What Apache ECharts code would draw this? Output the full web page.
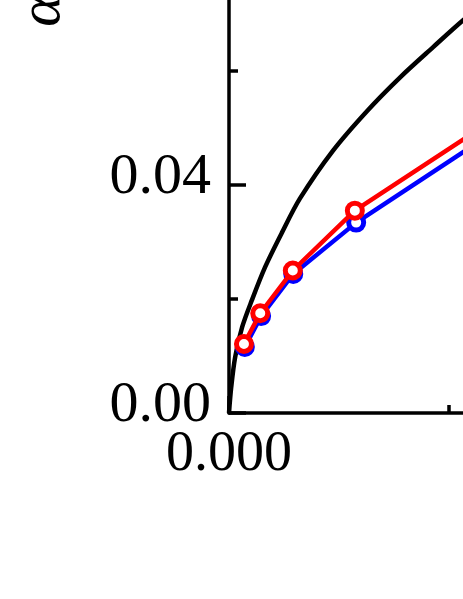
<!DOCTYPE html>
<html>
<head>
<meta charset="utf-8">
<script src="https://cdn.jsdelivr.net/npm/echarts@6/dist/echarts.min.js"></script>
<style>
html,body{margin:0;padding:0;background:#fff;overflow:hidden;width:463px;height:599px;position:relative;}
#chart{position:absolute;left:0;top:-100px;width:900px;height:800px;}
</style>
</head>
<body>
<div id="chart"></div>
<script>
// Black reference curve (x, y)
var curveX = [0, 0.00005, 0.00014, 0.0003, 0.00052, 0.00082, 0.0012, 0.00161, 0.00236, 0.00314, 0.00389, 0.00464, 0.00532, 0.00636];
var curveY = [0, 0.0045, 0.0098, 0.0151, 0.0198, 0.0256, 0.0316, 0.0376, 0.0460, 0.0530, 0.0589, 0.0642, 0.0689, 0.0755];
// Blue series
var blueX = [0.00036, 0.00073, 0.00146, 0.00289, 0.0057];
var blueY = [0.0116, 0.0170, 0.0244, 0.0334, 0.0477];
// Red series
var redX = [0.00034, 0.00071, 0.00145, 0.00286, 0.0057];
var redY = [0.0121, 0.0175, 0.0250, 0.0355, 0.0499];
// Tick labels
var yTickDecimals = 2;
var xTickDecimals = 3;
var yAxisName = 'α';

function pairs(xs, ys){ return xs.map(function(x,i){ return [x, ys[i]]; }); }

var FONT = 'Liberation Serif';
var chart = echarts.init(document.getElementById('chart'), null, {renderer:'canvas'});
chart.setOption({
  animation:false,
  backgroundColor:'#fff',
  grid:{left:229, top:57, width:440, height:456, containLabel:false},
  xAxis:{
    type:'value', min:0, max:0.010, interval:0.010,
    axisLine:{show:true, onZero:false, lineStyle:{color:'#000', width:3.5}},
    axisTick:{show:true, inside:true, length:17, lineStyle:{color:'#000', width:3.5}},
    minorTick:{show:true, splitNumber:2, length:8, lineStyle:{color:'#000', width:3.5}},
    splitLine:{show:false},
    axisLabel:{show:true, margin:14, color:'#000', fontFamily:FONT, fontSize:56, lineHeight:56,
      showMaxLabel:false,
      formatter:function(v){ return v.toFixed(xTickDecimals); }}
  },
  yAxis:{
    type:'value', min:0, max:0.08, interval:0.04,
    axisLine:{show:true, onZero:false, lineStyle:{color:'#000', width:3.5}},
    axisTick:{show:true, inside:true, length:17, lineStyle:{color:'#000', width:3.5}},
    minorTick:{show:true, splitNumber:2, length:9, lineStyle:{color:'#000', width:3.5}},
    splitLine:{show:false},
    axisLabel:{show:true, margin:18, color:'#000', fontFamily:FONT, fontSize:58,
      lineHeight:15, verticalAlign:'bottom', showMaxLabel:false,
      formatter:function(v){ return v.toFixed(yTickDecimals); }}
  },
  graphic:[{
    type:'text', x:43, y:111, rotation:Math.PI/2,
    style:{text:yAxisName, font:'italic 60px "Liberation Serif"', fill:'#000', textAlign:'center', textVerticalAlign:'middle'}
  }],
  series:[
    {type:'line', data:pairs(curveX, curveY), showSymbol:false, symbol:'none', smooth:0.3,
     lineStyle:{color:'#000', width:4.5, join:'round'}, z:2},
    {type:'line', data:pairs(blueX, blueY), symbol:'circle', symbolSize:15,
     itemStyle:{color:'#ffffff', borderColor:'#0000ff', borderWidth:5},
     lineStyle:{color:'#0000ff', width:4.5}, z:3},
    {type:'line', data:pairs(redX, redY), symbol:'circle', symbolSize:15,
     itemStyle:{color:'#ffffff', borderColor:'#ff0000', borderWidth:5},
     lineStyle:{color:'#ff0000', width:4.5}, z:4}
  ]
});
</script>
</body>
</html>
